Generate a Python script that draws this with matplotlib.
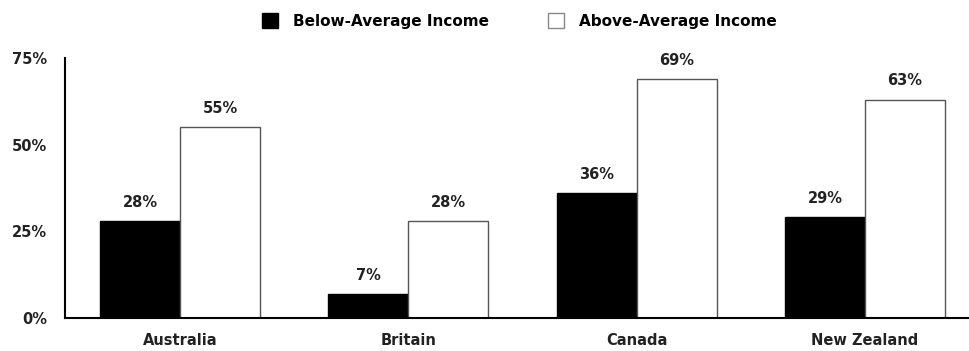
import matplotlib
matplotlib.use("Agg")
import matplotlib.pyplot as plt
from matplotlib.patches import Patch
import numpy as np

categories = ["Australia", "Britain", "Canada", "New Zealand"]
below_avg = [28, 7, 36, 29]
above_avg = [55, 28, 69, 63]
series_names = ["Below-Average Income", "Above-Average Income"]
yticks = [0, 25, 50, 75]
ytick_labels = ["0%", "25%", "50%", "75%"]

plt.rcParams['font.family'] = ['DejaVu Sans']
fig = plt.figure(figsize=(9.69, 3.51), dpi=100)
ax = fig.add_axes([65/969, 1 - 318/351, 1 - 65/969, (318 - 58)/351])

x = np.arange(len(categories))
w = 0.35
b1 = ax.bar(x - w/2, below_avg, w, color='black', edgecolor='black', linewidth=1)
b2 = ax.bar(x + w/2, above_avg, w, color='white', edgecolor='#555555', linewidth=1)

for rects, vals in ((b1, below_avg), (b2, above_avg)):
    for r, v in zip(rects, vals):
        ax.annotate(f"{v}%", (r.get_x() + r.get_width()/2, v), xytext=(0, 8),
                    textcoords='offset points', ha='center', va='bottom',
                    fontsize=10.5, fontweight='bold', color='#222222')

ax.set_xlim(-0.504, 3.456)
ax.set_ylim(0, 75)
ax.set_yticks(yticks)
ax.set_yticklabels(ytick_labels, fontsize=10.5, fontweight='bold', color='#222222')
ax.set_xticks(x)
ax.set_xticklabels(categories, fontsize=10.5, fontweight='bold', color='#222222')
ax.tick_params(axis='x', length=0, pad=11)
ax.tick_params(axis='y', length=0, pad=13)
for s in ['top', 'right']:
    ax.spines[s].set_visible(False)
ax.spines['left'].set_linewidth(1.5)
ax.spines['bottom'].set_linewidth(1.5)

handles = [Patch(facecolor='black', edgecolor='black'),
           Patch(facecolor='white', edgecolor='#888888')]
fig.legend(handles, series_names, loc='center', bbox_to_anchor=(0.536, 1 - 21/351),
           ncol=2, frameon=False, prop={'weight': 'bold', 'size': 11},
           handlelength=1.05, handleheight=1.05, columnspacing=3.8, handletextpad=1.0)

fig.savefig("out.png", dpi=100)
